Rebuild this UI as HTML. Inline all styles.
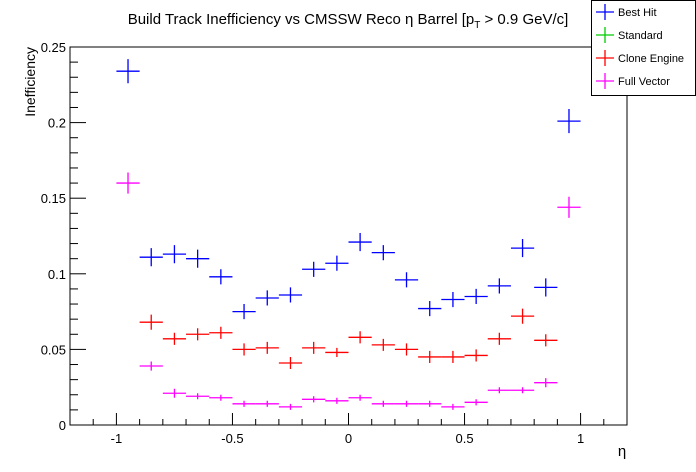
<!DOCTYPE html>
<html><head><meta charset="utf-8"><style>
body{margin:0;background:#fff;}
svg{display:block;font-family:"Liberation Sans",sans-serif;}
</style></head><body>
<svg id="chart" width="696" height="472" viewBox="0 0 696 472">
<rect x="0" y="0" width="696" height="472" fill="#fff"/>
<text x="348" y="24" text-anchor="middle" font-size="15">Build Track Inefficiency vs CMSSW Reco η Barrel [p<tspan font-size="10" dy="4">T</tspan><tspan dy="-4"> &gt; 0.9 GeV/c]</tspan></text>
<g id="axes"></g>
<g id="series"></g>
<text x="622" y="456" font-size="15" text-anchor="middle">η</text>
<text transform="translate(35,47) rotate(-90)" font-size="14" text-anchor="end">Inefficiency</text>
<g>
<rect x="591.5" y="0.5" width="104" height="95" fill="#fff" stroke="#000"/>
<g id="legend-items"></g>
</g>
</svg>
<script>
const etaCenters=[-0.95,-0.85,-0.75,-0.65,-0.55,-0.45,-0.35,-0.25,-0.15,-0.05,0.05,0.15,0.25,0.35,0.45,0.55,0.65,0.75,0.85,0.95];
const bestHit=[0.234,0.111,0.113,0.110,0.098,0.075,0.084,0.086,0.103,0.107,0.121,0.114,0.096,0.077,0.083,0.085,0.092,0.117,0.091,0.201];
const standard=[null,null,null,null,null,null,null,null,null,null,null,null,null,null,null,null,null,null,null,null];
const cloneEngine=[null,0.068,0.057,0.060,0.061,0.050,0.051,0.041,0.051,0.048,0.058,0.053,0.050,0.045,0.045,0.046,0.057,0.072,0.056,null];
const fullVector=[0.160,0.039,0.021,0.019,0.018,0.014,0.014,0.012,0.017,0.016,0.018,0.014,0.014,0.014,0.012,0.015,0.023,0.023,0.028,0.144];
const bestHitErr=[0.008,0.006,0.006,0.006,0.005,0.005,0.005,0.005,0.005,0.005,0.006,0.005,0.005,0.005,0.005,0.005,0.005,0.006,0.006,0.008];
const cloneErr=[0,0.005,0.004,0.004,0.004,0.004,0.004,0.004,0.004,0.003,0.004,0.004,0.004,0.004,0.004,0.004,0.004,0.005,0.004,0];
const fullErr=[0.007,0.003,0.003,0.002,0.002,0.002,0.002,0.002,0.002,0.002,0.002,0.002,0.002,0.002,0.002,0.002,0.002,0.002,0.003,0.007];
const xTicks=[-1,-0.5,0,0.5,1];
const xTickLabels=["-1","-0.5","0","0.5","1"];
const yTicks=[0,0.05,0.1,0.15,0.2,0.25];
const yTickLabels=["0","0.05","0.1","0.15","0.2","0.25"];
const seriesNames=["Best Hit","Standard","Clone Engine","Full Vector"];
const seriesColors=["#0000ff","#00cc00","#ff0000","#ff00ff"];
const binWidth=0.1;

const L=70,R=627,T=47,B=425,xmin=-1.2,xmax=1.2,ymin=0,ymax=0.25;
const X=v=>L+(v-xmin)/(xmax-xmin)*(R-L);
const Y=v=>B-(v-ymin)/(ymax-ymin)*(B-T);
const NS="http://www.w3.org/2000/svg";
function mk(tag,attrs,parent){const e=document.createElementNS(NS,tag);for(const k in attrs)e.setAttribute(k,attrs[k]);parent.appendChild(e);return e;}
const axes=document.getElementById('axes');
const frame=mk('rect',{x:L,y:T,width:R-L,height:B-T,fill:'none',stroke:'#000','stroke-width':1},axes);


for(let i=0;i<=25;i++){const v=i*0.01;const major=i%5===0;
 const t=mk('line',{x1:L,x2:L+(major?16:8),y1:Y(v),y2:Y(v),stroke:'#000'},axes);
 
 }
yTicks.forEach((v,i)=>{const t=mk('text',{x:L-4,y:Y(v)+5,'text-anchor':'end','font-size':13},axes);t.textContent=yTickLabels[i];
 
 });
for(let i=-11;i<=11;i++){const v=i*0.1;const major=i%5===0;
 const t=mk('line',{x1:X(v),x2:X(v),y1:B,y2:B-(major?12:6),stroke:'#000'},axes);
 
 }
xTicks.forEach((v,i)=>{const t=mk('text',{x:X(v),y:B+18,'text-anchor':'middle','font-size':13},axes);t.textContent=xTickLabels[i];
 
 });
const sg=document.getElementById('series');
const all=[[bestHit,bestHitErr],[standard,cloneErr],[cloneEngine,cloneErr],[fullVector,fullErr]];
all.forEach(([vals,errs],si)=>{
 const g=mk('g',{stroke:seriesColors[si],'stroke-width':1.3},sg);
 
 
 vals.forEach((v,i)=>{if(v===null)return;const c=etaCenters[i];
  const p=mk('path',{d:`M${X(c-binWidth/2)},${Y(v)}H${X(c+binWidth/2)}M${X(c)},${Y(v+errs[i])}V${Y(v-errs[i])}`,fill:'none'},g);
  
  });
});
const lg=document.getElementById('legend-items');
seriesNames.forEach((n,i)=>{const y=12+i*23;
 const g=mk('g',{},lg);
 
 
 mk('path',{d:`M596,${y}H614M605,${y-8}V${y+8}`,stroke:seriesColors[i],'stroke-width':1.3,fill:'none'},g);
 const t=mk('text',{x:618,y:y+4,'font-size':11},g);t.textContent=n;});
</script>
</body></html>
